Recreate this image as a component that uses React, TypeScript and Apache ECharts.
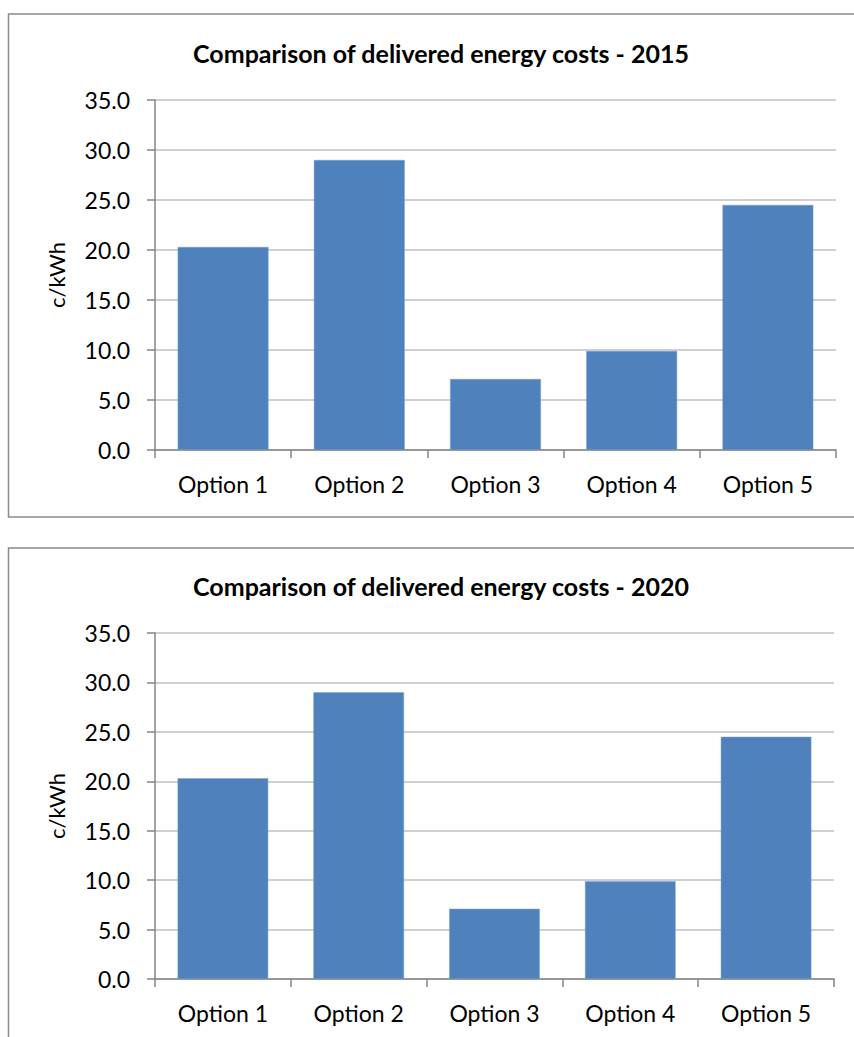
import React, { useEffect, useRef } from "react";
import * as echarts from "echarts";

const categories = ["Option 1", "Option 2", "Option 3", "Option 4", "Option 5"];
const costs2015 = [20.3, 29.0, 7.1, 9.9, 24.5];
const costs2020 = [20.3, 29.0, 7.1, 9.9, 24.5];
const titles = [
  "Comparison of delivered energy costs - 2015",
  "Comparison of delivered energy costs - 2020",
];
const yAxisName = "c/kWh";

const FONT = "Lato, 'Open Sans', sans-serif";
const BAR = "#4F81BD";
const AXIS = "#868686";
const GRID = "#c0c0c0";
const BORDER = "#8a8a8a";

export default function App() {
  const ref = useRef<HTMLDivElement>(null);
  useEffect(() => {
    if (!ref.current) return;
    const chart = echarts.init(ref.current, undefined, { renderer: "svg" });
    const grids = [
      { left: 155, top: 100, width: 681, height: 350 },
      { left: 155, top: 633, width: 679, height: 346 },
    ];
    const yAxis = grids.map((_, i) => ({
      type: "value" as const,
      gridIndex: i,
      min: 0,
      max: 35,
      interval: 5,
      name: yAxisName,
      nameLocation: "middle" as const,
      nameRotate: 90,
      nameGap: 88,
      nameTextStyle: { fontFamily: FONT, fontSize: 22, color: "#000" },
      axisLine: { show: true, lineStyle: { color: AXIS, width: 1.5 } },
      axisTick: { show: true, inside: false, length: 8, lineStyle: { color: AXIS, width: 1.5 } },
      axisLabel: {
        fontFamily: FONT,
        fontSize: 23,
        color: "#000",
        margin: 25,
        formatter: (v: number) => v.toFixed(1),
      },
      splitLine: { show: true, lineStyle: { color: GRID, width: 1.5 } },
    }));
    const xAxis = grids.map((_, i) => ({
      type: "category" as const,
      gridIndex: i,
      data: categories,
      boundaryGap: true,
      axisLine: { show: true, lineStyle: { color: AXIS, width: 1.5 } },
      axisTick: { show: true, inside: false, length: 8, alignWithLabel: false, lineStyle: { color: AXIS, width: 1.5 } },
      axisLabel: { fontFamily: FONT, fontSize: 23, color: "#000", margin: 22, interval: 0 },
      splitLine: { show: false },
    }));
    const data = [costs2015, costs2020];
    chart.setOption({
      animation: false,
      backgroundColor: "#fff",
      title: [
        {
          text: titles[0],
          left: 436,
          textAlign: "center",
          top: 35,
          textStyle: { fontFamily: FONT, fontSize: 25, fontWeight: "bold", color: "#000" },
        },
        {
          text: titles[1],
          left: 436,
          textAlign: "center",
          top: 568,
          textStyle: { fontFamily: FONT, fontSize: 25, fontWeight: "bold", color: "#000" },
        },
      ],
      grid: grids,
      xAxis,
      yAxis,
      series: data.map((d, i) => ({
        type: "bar",
        xAxisIndex: i,
        yAxisIndex: i,
        data: d,
        barCategoryGap: "33.3%",
        itemStyle: { color: BAR, borderColor: "#7a9fcf", borderWidth: 0.5 },
      })),
      graphic: [
        {
          type: "rect",
          shape: { x: 8.5, y: 14, width: 900, height: 503 },
          style: { fill: "none", stroke: BORDER, lineWidth: 1.5 },
          silent: true,
        },
        {
          type: "rect",
          shape: { x: 8.5, y: 548, width: 900, height: 600 },
          style: { fill: "none", stroke: BORDER, lineWidth: 1.5 },
          silent: true,
        },
      ],
    });
    return () => chart.dispose();
  }, []);
  return (
    <div
      ref={ref}
      style={{ position: "absolute", left: 0, top: 0, width: 854, height: 1037 }}
    />
  );
}
